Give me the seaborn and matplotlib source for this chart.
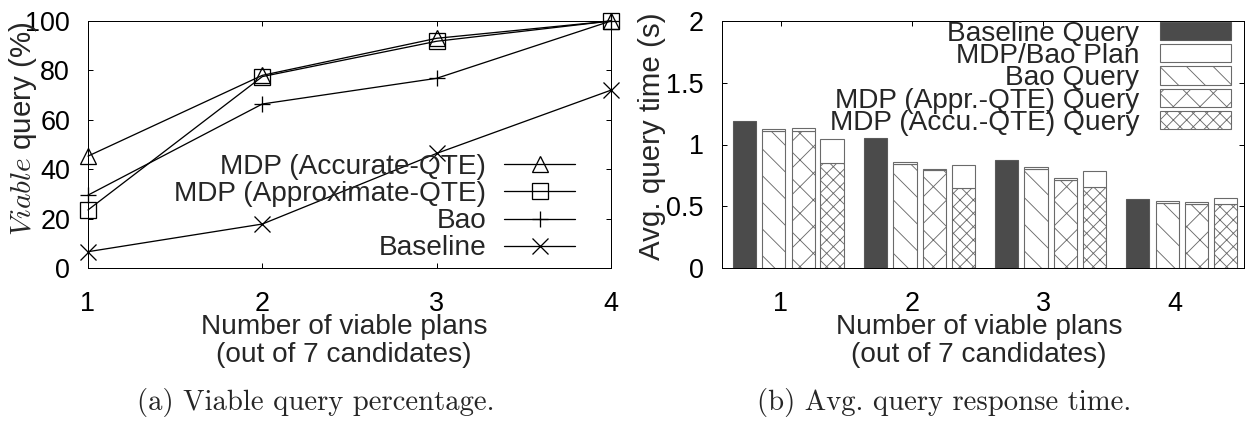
import numpy as np
import matplotlib
matplotlib.use("Agg")
import matplotlib.pyplot as plt
import seaborn as sns

# ---------------- data ----------------
n_plans = [1, 2, 3, 4]

mdp_accurate = [45.3, 78.0, 93.0, 100.0]
mdp_approx = [23.5, 77.5, 91.8, 100.0]
bao_viable = [29.5, 66.4, 76.8, 100.0]
baseline_viable = [6.6, 17.8, 46.4, 72.0]

baseline_query = [1.193, 1.056, 0.877, 0.558]
bao_query = [1.113, 0.845, 0.805, 0.528]
bao_plan = [0.013, 0.013, 0.013, 0.011]
appr_query = [1.107, 0.791, 0.716, 0.518]
appr_plan = [0.027, 0.014, 0.013, 0.013]
accu_query = [0.850, 0.644, 0.657, 0.518]
accu_plan = [0.196, 0.193, 0.129, 0.051]

left_ticks = [0, 20, 40, 60, 80, 100]
right_ticks = [0, 0.5, 1, 1.5, 2]
right_tick_labels = ["0", "0.5", "1", "1.5", "2"]

# ---------------- style ----------------
sns.set_style("ticks")
plt.rcParams['font.family'] = ['Liberation Sans', 'DejaVu Sans']
plt.rcParams['mathtext.fontset'] = 'cm'
plt.rcParams['hatch.linewidth'] = 0.8

DPI = 80
PT = 72.0 / DPI  # points per pixel
W, H = 1250, 428
fig = plt.figure(figsize=(W / DPI, H / DPI), dpi=DPI)

ax_l = fig.add_axes([88 / W, 1 - 268 / H, (611 - 88) / W, 247 / H])
ax_r = fig.add_axes([721.5 / W, 1 - 268 / H, (1244 - 721.5) / W, 247 / H])

tick_fs = 27 * PT
lab_fs = 28 * PT
leg_fs = 28 * PT
ylab_fs = 29.5 * PT
cap_fs = 28.7 * PT

for ax in (ax_l, ax_r):
    for s in ax.spines.values():
        s.set_linewidth(1.0 * PT)
        s.set_color('black')
    ax.tick_params(axis='both', which='both', direction='in', length=5 * PT,
                   width=1.0 * PT, top=True, right=True, labelsize=tick_fs,
                   colors='black')
    ax.tick_params(axis='x', pad=23 * PT)
    ax.tick_params(axis='y', pad=18 * PT)
    ax.set_facecolor('white')

# ---------------- left: viable query percentage ----------------
line_kw = dict(color='black', lw=1.3 * PT, ms=16 * PT, mfc='none',
               mec='black', mew=1.3 * PT)
sns.lineplot(x=n_plans, y=mdp_accurate, ax=ax_l, marker='^',
             label='MDP (Accurate-QTE)', **line_kw)
sns.lineplot(x=n_plans, y=mdp_approx, ax=ax_l, marker='s',
             label='MDP (Approximate-QTE)', **line_kw)
sns.lineplot(x=n_plans, y=bao_viable, ax=ax_l, marker='+',
             label='Bao', **line_kw)
sns.lineplot(x=n_plans, y=baseline_viable, ax=ax_l, marker='x',
             label='Baseline', **line_kw)

ax_l.set_xlim(1, 4)
ax_l.set_ylim(0, 100)
ax_l.set_xticks(n_plans)
ax_l.set_yticks(left_ticks)
for c in ax_l.lines:
    c.set_clip_on(False)

ax_l.set_xlabel("Number of viable plans\n(out of 7 candidates)",
                fontsize=lab_fs, va='center', linespacing=1.15)
ax_l.xaxis.set_label_coords((344 - 88) / 523, (268 - 341) / 247)
ax_l.set_ylabel(r"$\mathit{Viable}$ query (%)", fontsize=ylab_fs, va='center')
ax_l.yaxis.set_label_coords((23 - 88) / 523, (268 - 128.5) / 247)

leg_l = ax_l.legend(loc='center right', bbox_to_anchor=((575 - 88) / 523, (268 - 207.8) / 247),
                    frameon=False, markerfirst=False, fontsize=leg_fs,
                    handlelength=2.52, handletextpad=0.65, labelspacing=0.04,
                    borderpad=0, borderaxespad=0)

# ---------------- right: avg query time ----------------
offsets = [-0.28, -0.055, 0.17, 0.39]
bw = 0.178
xs = np.array(n_plans, dtype=float)
edge = '#6a6a6a'
dark = '#4b4b4b'
bar_lw = 1.1 * PT

h_base = ax_r.bar(xs + offsets[0], baseline_query, bw, color=dark, edgecolor='#5a5a5a',
                  linewidth=bar_lw, label='Baseline Query')
h_bao = ax_r.bar(xs + offsets[1], bao_query, bw, color='white', edgecolor=edge,
                 hatch='\\', linewidth=bar_lw, label='Bao Query')
h_appr = ax_r.bar(xs + offsets[2], appr_query, bw, color='white', edgecolor=edge,
                  hatch='x', linewidth=bar_lw, label='MDP (Appr.-QTE) Query')
h_accu = ax_r.bar(xs + offsets[3], accu_query, bw, color='white', edgecolor=edge,
                  hatch='xx', linewidth=bar_lw, label='MDP (Accu.-QTE) Query')
h_plan = ax_r.bar(xs + offsets[1], bao_plan, bw, bottom=bao_query, color='white',
                  edgecolor=edge, linewidth=bar_lw, label='MDP/Bao Plan')
ax_r.bar(xs + offsets[2], appr_plan, bw, bottom=appr_query, color='white',
         edgecolor=edge, linewidth=bar_lw)
ax_r.bar(xs + offsets[3], accu_plan, bw, bottom=accu_query, color='white',
         edgecolor=edge, linewidth=bar_lw)

ax_r.set_xlim(0.547, 4.53)
ax_r.set_ylim(0, 2)
ax_r.set_xticks(n_plans)
ax_r.set_yticks(right_ticks, right_tick_labels)

ax_r.set_xlabel("Number of viable plans\n(out of 7 candidates)",
                fontsize=lab_fs, va='center', linespacing=1.15)
ax_r.xaxis.set_label_coords((978.8 - 721.5) / 522.5, (268 - 341) / 247)
ax_r.set_ylabel("Avg. query time (s)", fontsize=ylab_fs, va='center')
ax_r.yaxis.set_label_coords((651.5 - 721.5) / 522.5, (268 - 136.5) / 247)

leg_r = ax_r.legend([h_base, h_plan, h_bao, h_appr, h_accu],
                    ['Baseline Query', 'MDP/Bao Plan', 'Bao Query',
                     'MDP (Appr.-QTE) Query', 'MDP (Accu.-QTE) Query'],
                    loc='center right', bbox_to_anchor=((1231 - 721.5) / 522.5, (268 - 78.3) / 247),
                    frameon=False, markerfirst=False, fontsize=leg_fs,
                    handlelength=2.55, handleheight=0.62, handletextpad=0.72,
                    labelspacing=-0.13, borderpad=0, borderaxespad=0)

# ---------------- captions ----------------
fig.text(316 / W, 1 - 402 / H, "(a) Viable query percentage.", fontsize=cap_fs,
         family='cmr10', ha='center', va='center')
fig.text(944 / W, 1 - 402 / H, "(b) Avg. query response time.", fontsize=cap_fs,
         family='cmr10', ha='center', va='center')

fig.savefig("out.png", dpi=DPI, facecolor='white')
